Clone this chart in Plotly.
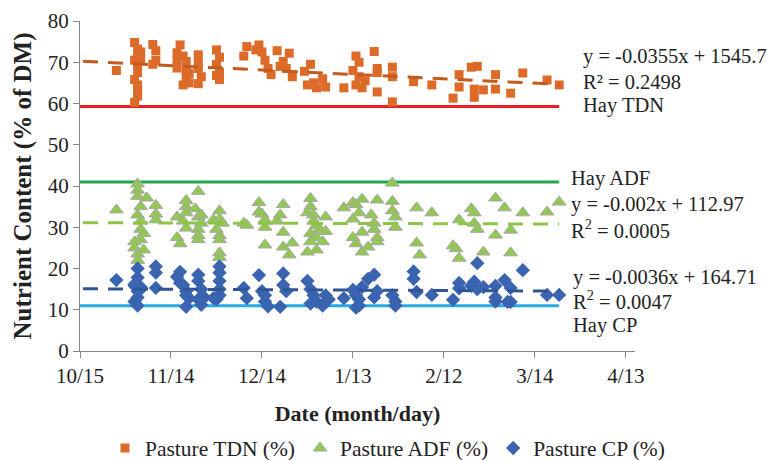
import pandas as pd
import plotly.graph_objects as go

# ---------------- data ----------------
tdn_dates = ["10/27", "11/02", "11/03", "11/03", "11/02", "11/03", "11/04", "11/03", "11/02", "11/03",
             "11/03", "11/03", "11/02", "11/04", "11/08", "11/09", "11/09", "11/08", "11/16", "11/16",
             "11/16", "11/17", "11/18", "11/19", "11/19", "11/19", "11/20", "11/18", "11/20", "11/23",
             "11/23", "11/23", "11/24", "11/23", "11/29", "11/30", "11/29", "11/30", "11/30", "11/29",
             "12/08", "12/09", "12/12", "12/13", "12/14", "12/15", "12/16", "12/17", "12/19", "12/21",
             "12/22", "12/23", "12/24", "12/20", "12/28", "12/30", "12/31", "01/01", "01/03", "01/04",
             "12/29", "01/10", "01/13", "01/14", "01/15", "01/15", "01/14", "01/16", "01/17", "01/20",
             "01/21", "01/21", "01/21", "01/26", "01/26", "01/26", "02/02", "02/08", "02/15", "02/17",
             "02/17", "02/21", "02/23", "02/22", "02/22", "02/25", "03/01", "03/01", "03/06", "03/10",
             "03/18", "03/22"]
tdn_values = [68.0, 74.8, 73.2, 71.8, 70.5, 69.3, 72.5, 67.5, 65.8, 64.5,
              63.0, 61.8, 60.3, 70.8, 74.3, 72.8, 70.5, 69.5, 72.3, 70.6,
              68.6, 74.2, 71.5, 70.2, 68.0, 66.3, 65.0, 64.5, 67.3, 71.8,
              70.0, 68.5, 66.5, 64.8, 73.0, 71.2, 69.5, 67.5, 65.8, 66.8,
              71.5, 73.8, 73.0, 74.2, 72.5, 70.5, 68.5, 67.0, 72.8, 70.2,
              68.5, 72.2, 66.5, 69.0, 67.8, 69.5, 65.0, 63.8, 66.0, 64.0,
              64.5, 63.8, 68.0, 71.5, 70.0, 66.5, 64.5, 63.8, 65.5, 72.6,
              68.5, 67.5, 62.8, 68.8, 66.5, 60.4, 65.3, 64.5, 61.3, 67.0,
              64.0, 68.8, 69.0, 63.5, 61.5, 63.3, 67.0, 63.5, 62.5, 67.4,
              65.7, 64.5]

adf_dates = ["10/27", "11/03", "11/03", "11/03", "11/04", "11/03", "11/04", "11/04", "11/05", "11/04",
             "11/02", "11/02", "11/03", "11/03", "11/05", "11/06", "11/09", "11/09", "11/09", "11/16",
             "11/16", "11/17", "11/19", "11/19", "11/19", "11/18", "11/19", "11/22", "11/23", "11/24",
             "11/23", "11/23", "11/24", "11/23", "11/23", "11/28", "11/30", "11/30", "12/01", "11/29",
             "11/30", "11/30", "11/30", "11/30", "12/08", "12/09", "12/13", "12/13", "12/14", "12/15",
             "12/15", "12/15", "12/21", "12/20", "12/19", "12/21", "12/21", "12/23", "12/24", "12/30",
             "12/30", "12/29", "12/31", "12/31", "01/01", "01/02", "12/30", "01/01", "01/03", "01/04",
             "01/04", "12/30", "01/01", "12/29", "01/10", "01/13", "01/14", "01/15", "01/13", "01/16",
             "01/13", "01/14", "01/16", "01/16", "01/18", "01/19", "01/20", "01/20", "01/21", "01/21",
             "01/21", "01/26", "01/26", "01/26", "01/27", "01/27", "02/03", "02/03", "02/04", "02/08",
             "02/15", "02/16", "02/17", "02/17", "02/21", "02/22", "02/22", "02/23", "02/25", "03/01",
             "03/01", "03/04", "03/06", "03/06", "03/10", "03/18", "03/22"]
adf_values = [34.2, 40.5, 39.0, 37.5, 35.0, 33.0, 31.5, 29.5, 28.5, 27.0,
              26.5, 25.0, 23.5, 22.0, 24.5, 37.1, 35.3, 33.2, 31.8, 32.5,
              27.5, 26.0, 36.5, 35.0, 33.5, 31.5, 29.8, 34.5, 32.5, 31.0,
              29.5, 28.0, 33.0, 27.0, 38.7, 31.8, 34.0, 32.0, 31.0, 29.5,
              28.0, 27.0, 23.8, 22.7, 31.0, 30.5, 36.0, 33.7, 33.2, 31.8,
              30.0, 25.7, 35.5, 33.0, 31.5, 28.8, 25.2, 23.3, 26.2, 37.0,
              35.0, 33.5, 33.0, 31.5, 30.5, 29.5, 28.5, 27.5, 26.5, 32.5,
              29.0, 26.5, 24.5, 24.0, 34.7, 36.0, 35.5, 33.5, 32.0, 36.8,
              27.5, 26.0, 24.0, 28.8, 25.2, 33.0, 31.0, 29.5, 27.5, 26.5,
              36.6, 40.7, 36.3, 34.0, 32.5, 30.0, 34.7, 26.2, 23.3, 33.5,
              25.5, 24.8, 22.5, 31.8, 34.5, 33.5, 31.0, 29.5, 24.0, 37.1,
              28.1, 34.7, 29.3, 23.8, 33.5, 33.7, 36.1]

cp_dates = ["10/27", "11/03", "11/03", "11/02", "11/04", "11/03", "11/03", "11/02", "11/04", "11/02",
            "11/03", "11/09", "11/09", "11/09", "11/16", "11/17", "11/17", "11/18", "11/19", "11/20",
            "11/19", "11/19", "11/23", "11/23", "11/24", "11/23", "11/24", "11/25", "11/28", "11/30",
            "11/30", "11/30", "11/30", "11/30", "11/29", "12/08", "12/09", "12/13", "12/14", "12/15",
            "12/15", "12/16", "12/20", "12/21", "12/21", "12/22", "12/29", "12/30", "12/31", "01/01",
            "01/03", "01/04", "12/30", "01/05", "01/10", "01/13", "01/14", "01/15", "01/15", "01/14",
            "01/16", "01/18", "01/20", "01/21", "01/20", "01/26", "01/27", "01/27", "02/02", "02/02",
            "02/03", "02/08", "02/15", "02/17", "02/17", "02/21", "02/22", "02/23", "02/23", "02/25",
            "03/01", "03/01", "03/01", "03/04", "03/05", "03/06", "03/06", "03/10", "03/18", "03/22"]
cp_values = [17.2, 20.0, 17.8, 16.2, 15.5, 14.5, 13.0, 12.0, 15.0, 15.8,
             11.0, 20.5, 19.0, 15.3, 18.0, 19.2, 16.5, 16.0, 14.5, 12.8,
             13.5, 10.7, 18.5, 17.0, 15.0, 12.5, 11.2, 13.0, 12.8, 20.5,
             19.0, 17.0, 15.0, 13.5, 12.5, 15.3, 12.8, 18.4, 14.5, 13.5,
             12.0, 10.8, 10.7, 18.8, 16.0, 14.5, 17.0, 15.0, 13.5, 12.0,
             11.0, 13.5, 11.5, 12.5, 12.8, 14.8, 13.5, 12.5, 11.0, 10.5,
             15.5, 17.5, 18.5, 14.5, 13.0, 13.5, 12.0, 11.0, 19.3, 17.5,
             14.3, 13.6, 12.4, 16.5, 15.2, 15.8, 16.8, 15.0, 21.3, 15.5,
             15.8, 13.0, 12.0, 17.2, 11.9, 15.3, 11.9, 19.6, 13.6, 13.6]

# trendlines (Excel serial-date x); ADF slope unrounded estimate of the printed -0.002
trend_slopes = [-0.0355, -0.00197, -0.0036]
trend_intercepts = [1545.7, 112.97, 164.71]
trend_span = ["10/16", "03/22"]

# hay reference levels
hay_names = ["Hay TDN", "Hay ADF", "Hay CP"]
hay_values = [59.3, 41.0, 11.0]
hay_span = ["10/15", "03/22"]

tick_dates = ["10/15", "11/14", "12/14", "01/13", "02/12", "03/14", "04/13"]
tick_labels = ["10/15", "11/14", "12/14", "1/13", "2/12", "3/14", "4/13"]

eq_texts = ["y = -0.0355x + 1545.7", "R² = 0.2498",
            "y = -0.002x + 112.97", "R<sup>2</sup> = 0.0005",
            "y = -0.0036x + 164.71", "R<sup>2</sup> = 0.0047"]


def to_date(md):
    m, d = md.split("/")
    year = 2013 if int(m) >= 10 else 2014
    return pd.Timestamp(year=year, month=int(m), day=int(d))


def serial(ts):
    return (ts - pd.Timestamp("1899-12-30")).days


FONT = "Liberation Serif, Times New Roman, serif"
TXT = "#222222"
C_TDN = "#DC6B2A"
C_ADF = "#92C852"
C_CP = "#3A64B0"

fig = go.Figure()

# hay lines
hay_colors = ["#EE1C25", "#1EAA4B", "#27AAE1"]
hx = [to_date(s) for s in hay_span]
for name, val, col in zip(hay_names, hay_values, hay_colors):
    fig.add_trace(go.Scatter(x=hx, y=[val, val], mode="lines", line=dict(color=col, width=3),
                             showlegend=False, hoverinfo="skip", name=name))

# scatter series
fig.add_trace(go.Scatter(x=[to_date(s) for s in tdn_dates], y=tdn_values, mode="markers",
                         name="Pasture TDN (%)",
                         marker=dict(symbol="square", size=9, color=C_TDN, line=dict(width=0))))
fig.add_trace(go.Scatter(x=[to_date(s) for s in adf_dates], y=adf_values, mode="markers",
                         name="Pasture ADF (%)",
                         marker=dict(symbol="triangle-up", size=12, color=C_ADF,
                                     line=dict(width=1, color="#A6A6A6"))))
fig.add_trace(go.Scatter(x=[to_date(s) for s in cp_dates], y=cp_values, mode="markers",
                         name="Pasture CP (%)",
                         marker=dict(symbol="diamond", size=11, color=C_CP, line=dict(width=0))))

# trendlines
tx = [to_date(s) for s in trend_span]
trend_colors = ["#C55A1E", "#8DC646", "#2F5597"]
for m, b, col in zip(trend_slopes, trend_intercepts, trend_colors):
    ty = [m * serial(t) + b for t in tx]
    fig.add_trace(go.Scatter(x=tx, y=ty, mode="lines",
                             line=dict(color=col, width=3, dash="15px,10px"),
                             showlegend=False, hoverinfo="skip"))

# annotations
ann = []
label_specs = [
    (eq_texts[0], 0.903, 71.3), (eq_texts[1], 0.903, 65.2), (hay_names[0], 0.903, 59.4),
    (hay_names[1], 0.881, 41.8), (eq_texts[2], 0.881, 35.5), (eq_texts[3], 0.881, 29.5),
    (eq_texts[4], 0.885, 17.9), (eq_texts[5], 0.885, 12.3), (hay_names[2], 0.885, 6.3),
]
for txt, xp, yv in label_specs:
    ann.append(dict(text=txt, xref="paper", yref="y", x=xp, y=yv, xanchor="left", yanchor="middle",
                    showarrow=False, font=dict(family=FONT, size=20.5, color=TXT)))

fig.update_layout(
    width=778, height=460,
    margin=dict(l=80, r=143, t=21, b=109, autoexpand=False),
    paper_bgcolor="white", plot_bgcolor="white",
    font=dict(family=FONT, size=21, color=TXT),
    annotations=ann,
    showlegend=True,
    legend=dict(orientation="h", xref="paper", yref="paper",
                x=1.063, xanchor="right", y=-0.294, yanchor="middle",
                font=dict(family=FONT, size=21.5, color=TXT),
                itemwidth=30, tracegroupgap=0, bgcolor="rgba(0,0,0,0)"),
)

fig.update_xaxes(
    type="date", automargin=False,
    range=[to_date("10/15"), to_date("04/16")],
    tickvals=[to_date(s) for s in tick_dates],
    ticktext=tick_labels,
    showline=True, linecolor="#868686", linewidth=1.3,
    ticks="outside", ticklen=6, tickcolor="#868686",
    showgrid=False, zeroline=False,
    tickfont=dict(family=FONT, size=21, color=TXT),
    title=dict(text="<b>Date (month/day)</b>", font=dict(family=FONT, size=22, color=TXT),
               standoff=18),
)
fig.update_yaxes(
    automargin=False,
    range=[0, 80], dtick=10,
    showline=True, linecolor="#868686", linewidth=1.3,
    ticks="outside", ticklen=6, tickcolor="#868686",
    showgrid=False, zeroline=False,
    tickfont=dict(family=FONT, size=21, color=TXT),
    title=dict(text="<b>Nutrient Content (% of DM)</b>", font=dict(family=FONT, size=25, color=TXT),
               standoff=8),
)

fig.write_html("out.html", config={"displayModeBar": False},
               post_script="document.body.style.margin='0px';document.body.style.padding='0px';")
